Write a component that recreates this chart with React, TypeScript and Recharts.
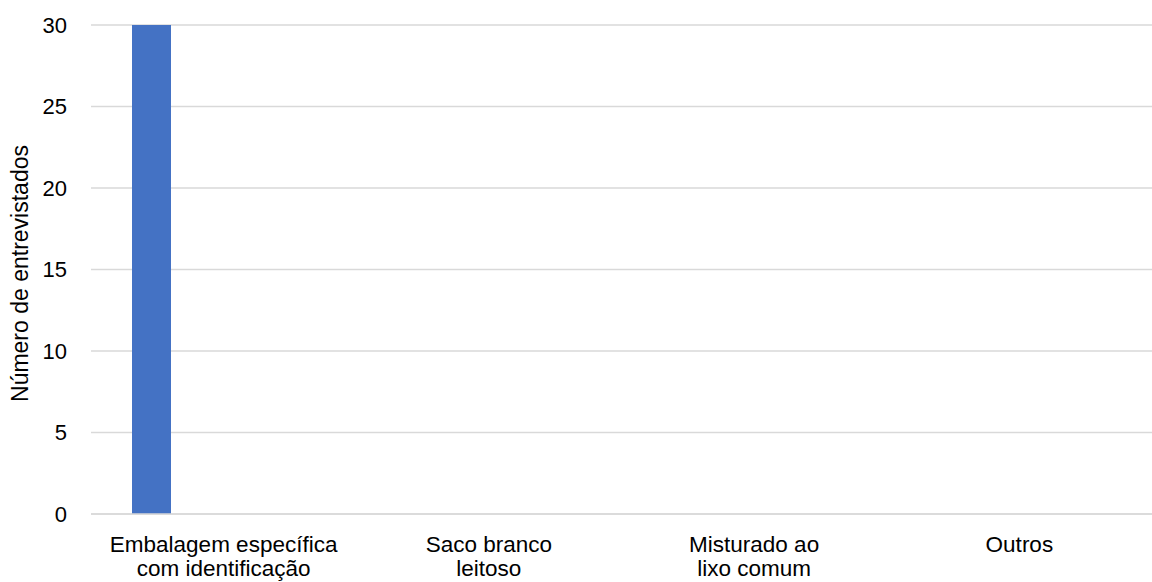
import React from "react";
import { BarChart, Bar, XAxis, YAxis, CartesianGrid } from "recharts";

// Categories, each split into the lines shown under the axis
const categoryLines: string[][] = [
  ["Embalagem específica", "com identificação"],
  ["Saco branco", "leitoso"],
  ["Misturado ao", "lixo comum"],
  ["Outros"],
];
const categories: string[] = categoryLines.map((l) => l.join(" "));

// Number of interviewees per disposal method
const entrevistados: number[] = [30, 0, 0, 0];
// Second series slot of the grouped layout, with no answers recorded
const semResposta: (number | null)[] = [null, null, null, null];

const yTicks: number[] = [0, 5, 10, 15, 20, 25, 30];

const data = categories.map((c, i) => ({
  categoria: c,
  entrevistados: entrevistados[i],
  semResposta: semResposta[i],
}));

const FONT = "'Liberation Sans', Arial, sans-serif";

const CategoryTick = (props: any) => {
  const { x, y, payload } = props;
  const idx = categories.indexOf(payload.value);
  const lines = categoryLines[idx] || [payload.value];
  return (
    <text
      x={x}
      y={y}
      textAnchor="middle"
      fontFamily={FONT}
      fontSize={22.5}
      fill="#000"
    >
      {lines.map((line, i) => (
        <tspan key={i} x={x} dy={i === 0 ? 30 : 24}>
          {line}
        </tspan>
      ))}
    </text>
  );
};

export default function App() {
  return (
    <div style={{ position: "absolute", left: 0, top: 0, background: "#fff" }}>
      <BarChart
        width={1152}
        height={582}
        data={data}
        margin={{ top: 25, right: 0, bottom: 0, left: 0 }}
        barSize={39}
        barGap={105}
      >
        <CartesianGrid
          vertical={false}
          stroke="#d9d9d9"
          strokeWidth={1.5}
        />
        <XAxis
          dataKey="categoria"
          axisLine={{ stroke: "#d9d9d9", strokeWidth: 1.5 }}
          tickLine={false}
          tick={<CategoryTick />}
          interval={0}
          height={68}
        />
        <YAxis
          width={91}
          domain={[0, 30]}
          ticks={yTicks}
          axisLine={false}
          tickLine={false}
          tickSize={0}
          tickMargin={24}
          tick={{ fontFamily: FONT, fontSize: 22, fill: "#000" }}
          label={{
            value: "Número de entrevistados",
            angle: -90,
            position: "insideLeft",
            dx: 15,
            dy: 4,
            style: {
              textAnchor: "middle",
              fontFamily: FONT,
              fontSize: 23,
              fill: "#000",
            },
          }}
        />
        <Bar dataKey="entrevistados" fill="#4472C4" isAnimationActive={false} />
        <Bar dataKey="semResposta" fill="#ED7D31" isAnimationActive={false} />
      </BarChart>
    </div>
  );
}
